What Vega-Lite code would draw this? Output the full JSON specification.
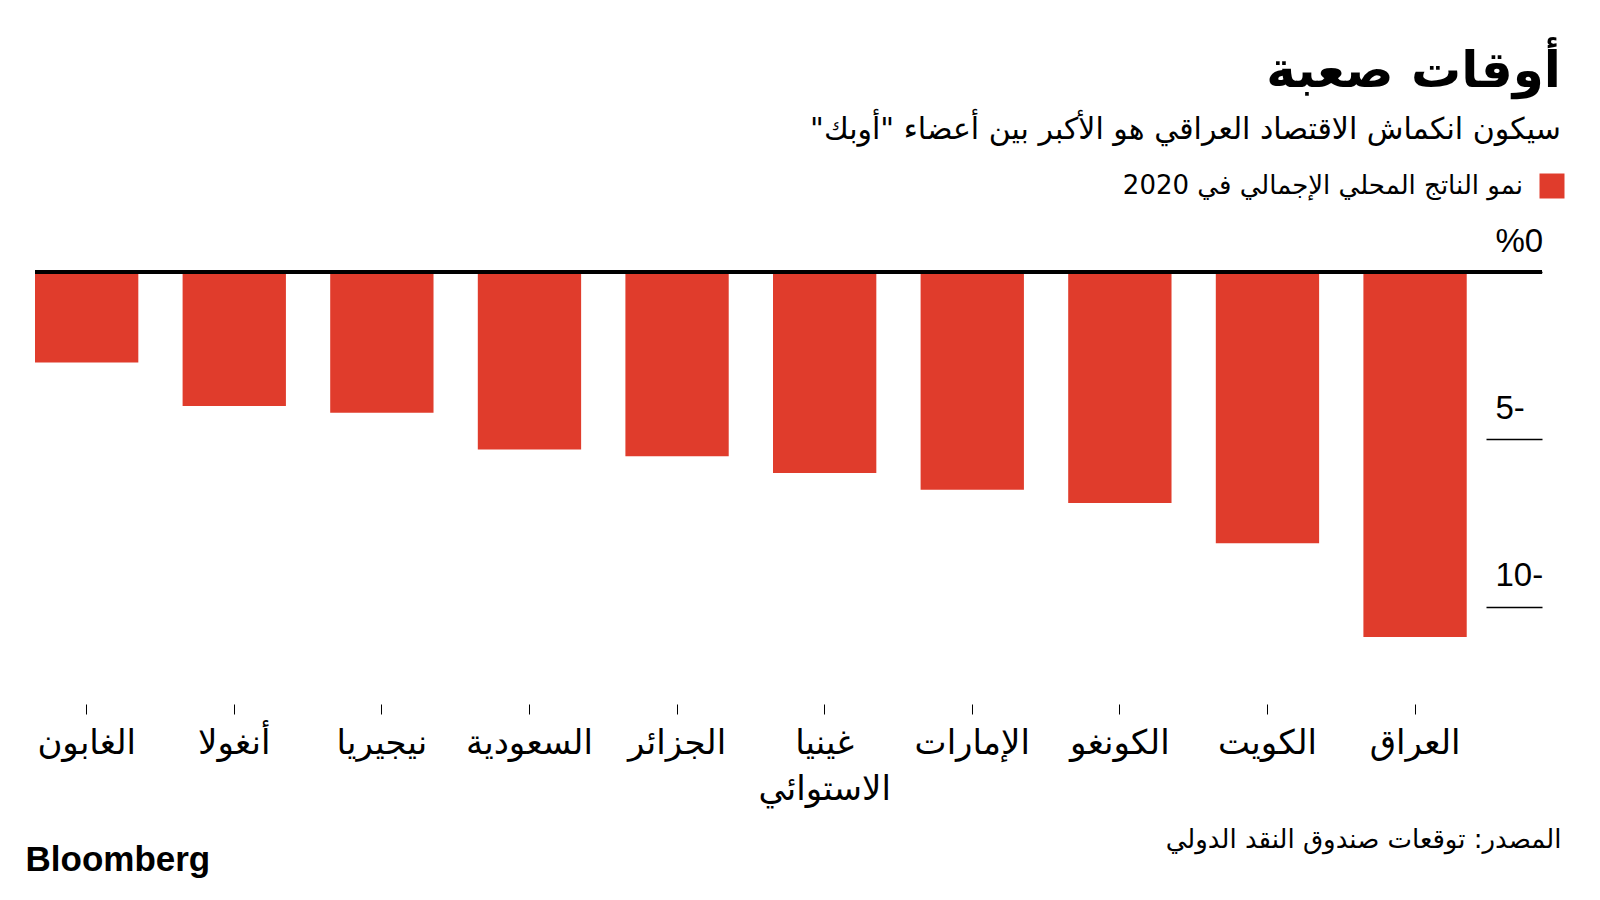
{
  "$schema": "https://vega.github.io/schema/vega-lite/v6.json",
  "width": 1507,
  "height": 432,
  "autosize": {"type": "none"},
  "padding": {"left": 35, "top": 272, "right": 58, "bottom": 196},
  "background": "white",
  "title": {
    "text": "أوقات صعبة",
    "subtitle": "سيكون انكماش الاقتصاد العراقي هو الأكبر بين  أعضاء \"أوبك\"‏",
    "anchor": "end",
    "frame": "group",
    "dx": 19,
    "offset": 28,
    "font": "DejaVu Sans",
    "fontSize": 50,
    "fontWeight": "bold",
    "color": "black",
    "subtitleFont": "DejaVu Sans",
    "subtitleFontSize": 30,
    "subtitleColor": "black",
    "subtitlePadding": 18
  },
  "data": {
    "values": [
      {"country": "الغابون", "growth": -2.7, "series": "نمو الناتج المحلي الإجمالي في 2020"},
      {"country": "أنغولا", "growth": -4.0, "series": "نمو الناتج المحلي الإجمالي في 2020"},
      {"country": "نيجيريا", "growth": -4.2, "series": "نمو الناتج المحلي الإجمالي في 2020"},
      {"country": "السعودية", "growth": -5.3, "series": "نمو الناتج المحلي الإجمالي في 2020"},
      {"country": "الجزائر", "growth": -5.5, "series": "نمو الناتج المحلي الإجمالي في 2020"},
      {"country": "غينيا|الاستوائي", "growth": -6.0, "series": "نمو الناتج المحلي الإجمالي في 2020"},
      {"country": "الإمارات", "growth": -6.5, "series": "نمو الناتج المحلي الإجمالي في 2020"},
      {"country": "الكونغو", "growth": -6.9, "series": "نمو الناتج المحلي الإجمالي في 2020"},
      {"country": "الكويت", "growth": -8.1, "series": "نمو الناتج المحلي الإجمالي في 2020"},
      {"country": "العراق", "growth": -10.9, "series": "نمو الناتج المحلي الإجمالي في 2020"}
    ]
  },
  "layer": [
    {
      "mark": {"type": "bar"},
      "encoding": {
        "x": {
          "field": "country",
          "type": "nominal",
          "sort": null,
          "scale": {"paddingInner": 0.3, "paddingOuter": 0.255, "align": 0},
          "axis": {
            "title": "المصدر: توقعات صندوق النقد الدولي",
            "titleX": 1526,
            "titleY": 135,
            "titleAlign": "right",
            "titleBaseline": "middle",
            "titleFont": "DejaVu Sans",
            "titleFontSize": 26,
            "titleFontWeight": "normal",
            "titleColor": "black",
            "domain": false,
            "grid": false,
            "ticks": true,
            "tickSize": 10,
            "tickColor": "black",
            "tickWidth": 1,
            "labelAngle": 0,
            "labelFont": "DejaVu Sans",
            "labelFontSize": 34,
            "labelColor": "black",
            "labelPadding": 12,
            "labelBaseline": "top",
            "labelLineHeight": 46,
            "labelLimit": 0,
            "labelExpr": "split(datum.label, '|')"
          }
        },
        "y": {
          "field": "growth",
          "type": "quantitative",
          "scale": {"domain": [-12.9, 0], "nice": false, "zero": false},
          "axis": {
            "orient": "right",
            "title": "Bloomberg",
            "titleAngle": 0,
            "titleX": -1517,
            "titleY": 598,
            "titleAlign": "left",
            "titleBaseline": "alphabetic",
            "titleFont": "Liberation Sans",
            "titleFontSize": 35,
            "titleFontWeight": "bold",
            "titleColor": "black",
            "values": [0, -5, -10],
            "domain": false,
            "grid": false,
            "ticks": true,
            "tickSize": -56,
            "tickColor": "black",
            "tickWidth": 1.5,
            "labelExpr": "datum.value == 0 ? '%0' : (-datum.value) + '-'",
            "labelAlign": "left",
            "labelBaseline": "alphabetic",
            "labelOffset": -21,
            "labelPadding": 9,
            "labelFont": "Liberation Sans",
            "labelFontSize": 33,
            "labelColor": "black"
          }
        },
        "color": {
          "field": "series",
          "type": "nominal",
          "scale": {"range": ["#e03c2c"]},
          "legend": {
            "orient": "none",
            "legendX": 1504,
            "legendY": -99,
            "title": null,
            "padding": 0,
            "symbolType": "square",
            "symbolSize": 625,
            "symbolStrokeWidth": 0,
            "symbolOpacity": 1,
            "labelFont": "DejaVu Sans",
            "labelFontSize": 26,
            "labelColor": "black",
            "labelAlign": "right",
            "labelOffset": -42,
            "labelLimit": 0
          }
        }
      }
    },
    {
      "mark": {"type": "rule", "color": "black", "strokeWidth": 3},
      "encoding": {"y": {"datum": 0, "type": "quantitative"}}
    }
  ],
  "config": {"view": {"stroke": null}}
}
